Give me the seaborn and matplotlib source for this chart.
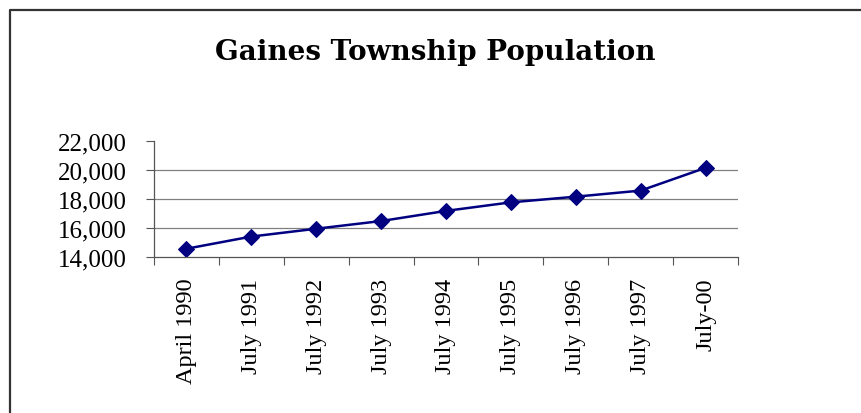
import matplotlib
matplotlib.use("Agg")
import matplotlib.pyplot as plt
from matplotlib.lines import Line2D
import seaborn as sns
import pandas as pd

categories = ["April 1990", "July 1991", "July 1992", "July 1993", "July 1994",
              "July 1995", "July 1996", "July 1997", "July-00"]
population = [14570, 15410, 15950, 16480, 17180, 17770, 18160, 18580, 20150]
yticks = [14000, 16000, 18000, 20000, 22000]
ytick_labels = ["14,000", "16,000", "18,000", "20,000", "22,000"]
title = "Gaines Township Population"

sns.set_theme(style="white")
plt.rcParams['font.family'] = ['Liberation Serif', 'DejaVu Serif']

df = pd.DataFrame({"when": categories, "pop": population})

W, H = 862, 414
fig = plt.figure(figsize=(W / 100, H / 100), dpi=100)
ax = fig.add_axes([154 / W, 1 - 258 / H, (738 - 154) / W, (258 - 142) / H])

sns.lineplot(data=df, x="when", y="pop", ax=ax, sort=False, color="#000080",
             linewidth=1.8, marker="D", markersize=8, markeredgecolor="#000080",
             markerfacecolor="#000080")

ax.set_ylim(14000, 22000)
ax.set_xlim(-0.5, len(categories) - 0.5)
ax.set_yticks(yticks)
ax.set_yticklabels(ytick_labels)
ax.set_xticks(range(len(categories)))
ax.set_xticklabels(categories, rotation=90)
ax.set_xticks([i - 0.5 for i in range(len(categories) + 1)], minor=True)
ax.set_xlabel("")
ax.set_ylabel("")

ax.tick_params(axis="x", which="major", length=0, pad=15, labelsize=17.5, colors="black")
ax.tick_params(axis="x", which="minor", length=5.8, width=0.8, color="#555555", direction="out", bottom=True)
ax.tick_params(axis="y", which="major", length=5.8, width=0.8, color="#555555", direction="out",
               left=True, pad=14, labelsize=18, labelcolor="black")

ax.yaxis.grid(True, color="#808080", linewidth=0.9)
ax.set_axisbelow(True)
ax.get_ygridlines()[-1].set_visible(False)
ax.get_ygridlines()[0].set_visible(False)

for s in ["top", "right"]:
    ax.spines[s].set_visible(False)
for s in ["left", "bottom"]:
    ax.spines[s].set_color("#555555")
    ax.spines[s].set_linewidth(0.9)
ax.set_facecolor("white")

fig.text(435 / W, 1 - 52 / H, title, ha="center", va="center", fontsize=20,
         fontweight="bold", color="black", family=["DejaVu Serif"])

fig.add_artist(Line2D([10.5 / W, 10.5 / W, 1.0], [0.0, 1 - 10.5 / H, 1 - 10.5 / H],
                      transform=fig.transFigure, color="#333333", linewidth=1.6))

fig.savefig("out.png", dpi=100, facecolor="white")
